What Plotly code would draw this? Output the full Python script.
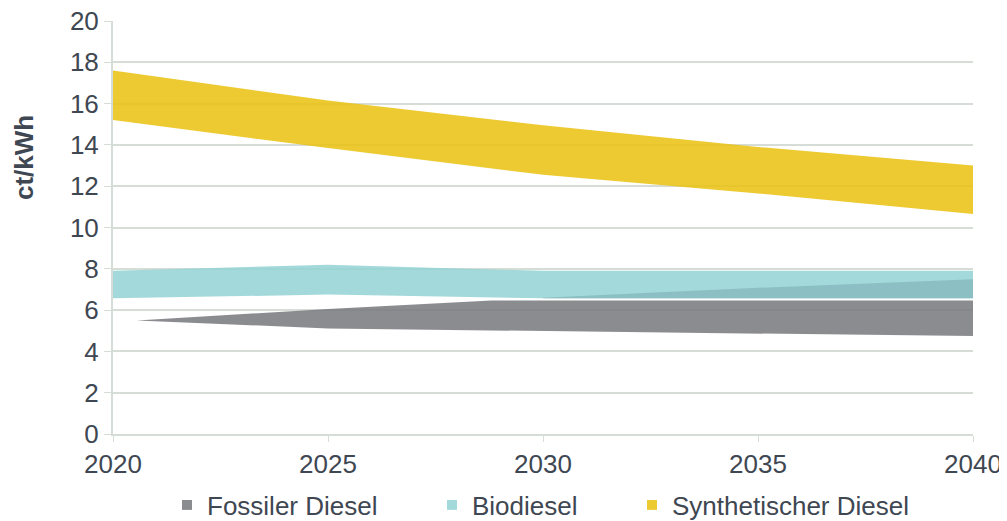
import plotly.graph_objects as go

# ---- data ----
years = [2020, 2025, 2030, 2035, 2040]

synth_upper = [17.6, 16.15, 14.95, 13.9, 13.0]
synth_lower = [15.2, 13.85, 12.55, 11.65, 10.65]

bio_upper = [7.9, 8.2, 7.9, 7.9, 7.9]
bio_lower = [6.57, 6.75, 6.57, 6.57, 6.57]

fossil_years = [2020.55, 2025, 2028.8, 2030, 2035, 2040]
fossil_upper = [5.5, 6.05, 6.47, 6.47, 6.47, 6.47]
fossil_lower = [5.5, 5.11, 5.04, 5.01, 4.87, 4.74]

overlap_years = [2030, 2035, 2040]
overlap_upper = [6.6, 7.08, 7.5]
overlap_lower = [6.57, 6.57, 6.57]

names = ["Fossiler Diesel", "Biodiesel", "Synthetischer Diesel"]
colors = ["#8b8c90", "#a3d9da", "#ecca32"]
fills = ["rgba(119,120,124,0.85)", "rgba(147,210,211,0.85)", "rgba(234,193,14,0.85)"]

TXT = "#3e4752"
FONT = "Liberation Sans, Arial, sans-serif"
GRID = "#d6ddd6"


def band(xs, up, lo, fillcolor):
    return go.Scatter(
        x=list(xs) + list(xs)[::-1],
        y=list(up) + list(lo)[::-1],
        fill="toself", fillcolor=fillcolor, mode="lines",
        line=dict(width=0), showlegend=False, hoverinfo="skip",
    )


fig = go.Figure()
fig.add_trace(band(years, synth_upper, synth_lower, fills[2]))
fig.add_trace(band(years, bio_upper, bio_lower, fills[1]))
fig.add_trace(band(overlap_years, overlap_upper, overlap_lower, "#8bbfc3"))
fig.add_trace(band(fossil_years, fossil_upper, fossil_lower, fills[0]))

legend_ids = ["legend", "legend2", "legend3"]
for nm, col, lid in zip(names, colors, legend_ids):
    fig.add_trace(go.Scatter(
        x=[None], y=[None], mode="markers", name=nm,
        marker=dict(symbol="square", size=10, color=col),
        legend=lid, showlegend=True,
    ))

OFF = 8  # page body margin
W, H = 1007 - OFF, 521 - OFF
L, R, T, B = 113 - OFF, 34, 21 - OFF, 87
pw, ph = W - L - R, H - T - B


def px_x(x):
    return (x - OFF - L) / pw


def px_y(y):
    return (H - B - (y - OFF)) / ph


leg_common = dict(orientation="h", yanchor="middle", xanchor="left",
                  bgcolor="rgba(0,0,0,0)", font=dict(family=FONT, size=26, color=TXT),
                  itemclick=False)
text_starts = [208, 473, 673]

fig.update_layout(
    width=W, height=H,
    margin=dict(l=L, r=R, t=T, b=B, autoexpand=False),
    plot_bgcolor="white", paper_bgcolor="white",
    font=dict(family=FONT, size=26, color=TXT),
    legend=dict(x=px_x(text_starts[0] - 41), y=px_y(505), **leg_common),
    legend2=dict(x=px_x(text_starts[1] - 41), y=px_y(505), **leg_common),
    legend3=dict(x=px_x(text_starts[2] - 41), y=px_y(505), **leg_common),
    xaxis=dict(
        range=[2020, 2040], tickvals=[2020, 2025, 2030, 2035, 2040],
        showgrid=False, showline=True, linecolor=GRID, linewidth=2,
        ticks="outside", ticklen=6, tickcolor=GRID, tickwidth=1,
        tickfont=dict(family=FONT, size=26, color=TXT), zeroline=False,
        automargin=False, ticklabeloverflow="allow",
    ),
    yaxis=dict(
        range=[0, 20], dtick=2, showgrid=True, gridcolor=GRID, gridwidth=2,
        showline=True, linecolor=GRID, linewidth=2,
        ticks="outside", ticklen=7, tickcolor=GRID, tickwidth=1,
        tickfont=dict(family=FONT, size=26, color=TXT), zeroline=False,
        automargin=False, ticklabeloverflow="allow",
    ),
    annotations=[dict(
        text="<b>ct/kWh</b>", textangle=-90, showarrow=False,
        xref="paper", yref="paper", x=px_x(24), y=px_y(158),
        xanchor="center", yanchor="middle",
        font=dict(family=FONT, size=26, color=TXT),
    )],
)

fig.write_html("out.html")
